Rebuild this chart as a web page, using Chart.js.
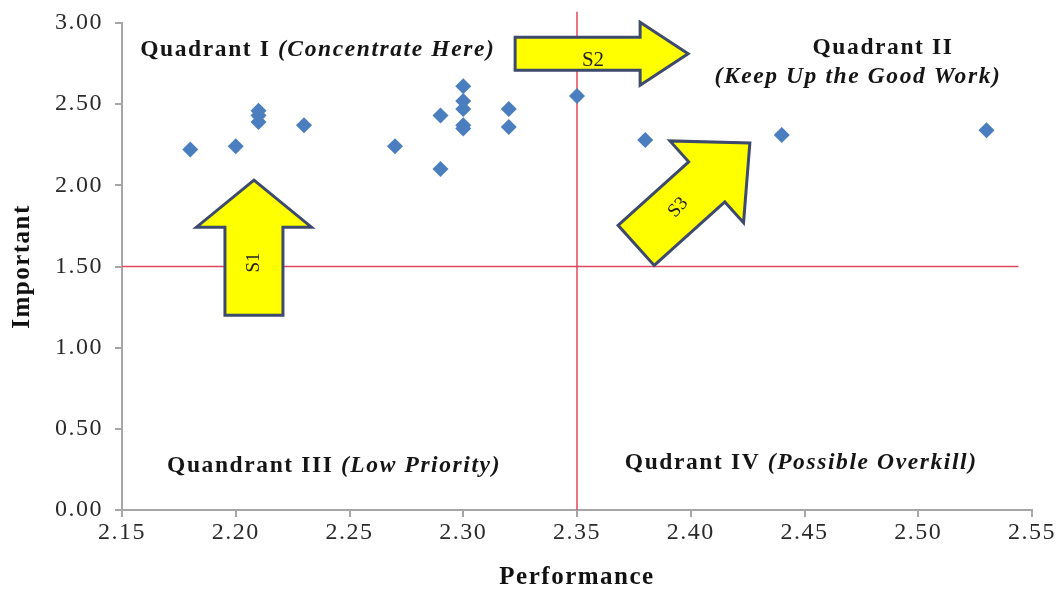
<!DOCTYPE html>
<html>
<head>
<meta charset="utf-8">
<script src="https://cdn.jsdelivr.net/npm/chart.js@4/dist/chart.umd.min.js"></script>
<style>
  html, body { margin: 0; padding: 0; background: #fff; }
  #wrap { width: 1063px; height: 589px; }
</style>
</head>
<body>
<div id="wrap"><canvas id="chart" width="1063" height="589"></canvas></div>
<script>
// values
var performance = [2.18, 2.20, 2.21, 2.21, 2.21, 2.23, 2.27, 2.29, 2.29, 2.30, 2.30, 2.30, 2.30, 2.30, 2.32, 2.32, 2.35, 2.38, 2.44, 2.53];
var importance  = [2.22, 2.24, 2.46, 2.43, 2.39, 2.37, 2.24, 2.43, 2.10, 2.61, 2.52, 2.47, 2.37, 2.35, 2.47, 2.36, 2.55, 2.28, 2.31, 2.34];

var perfCut = 2.35;
var impCut = 1.50;
var xTicks = [2.15, 2.20, 2.25, 2.30, 2.35, 2.40, 2.45, 2.50, 2.55];
var yTicks = [0.00, 0.50, 1.00, 1.50, 2.00, 2.50, 3.00];

var points = [];
for (var i = 0; i < performance.length; i++) {
    points.push({ x: performance[i], y: importance[i] });
}

var serif = '"Liberation Serif", "Times New Roman", serif';
var redLine = 'rgb(221, 72, 92)';

// text blocks and arrows, anchored in data units
var labels = [
    { x: 2.158, y: 2.834, align: 'left', parts: [['bold', 'Quadrant I '], ['italic bold', '(Concentrate Here)']] },
    { x: 2.4845, y: 2.846, align: 'center', parts: [['bold', 'Quadrant II']] },
    { x: 2.4735, y: 2.667, align: 'center', parts: [['italic bold', '(Keep Up the Good Work)']] },
    { x: 2.1698, y: 0.271, align: 'left', parts: [['bold', 'Quandrant III '], ['italic bold', '(Low Priority)']] },
    { x: 2.371, y: 0.29, align: 'left', parts: [['bold', 'Qudrant IV '], ['italic bold', '(Possible Overkill)']] }
];

var arrows = [
    { x: 2.208, y: 1.20, angle: -90, len: 135, w: 58, hw: 115, hl: 47, text: 'S1', tx: 0.39, ty: 0, trot: -90, size: 19 },
    { x: 2.3228, y: 2.81, angle: 0, len: 173, w: 33, hw: 63, hl: 48, text: 'S2', tx: 0.45, ty: 7, trot: 0, size: 21 },
    { x: 2.376, y: 1.63, angle: -42, len: 153, w: 54, hw: 110, hl: 58, text: 'S3', tx: 0.37, ty: 0, trot: -48, size: 19 }
];

var spacingPlugin = {
    id: 'spacing',
    beforeUpdate: function (chart) { chart.ctx.letterSpacing = '1.5px'; },
    beforeDraw: function (chart) { chart.ctx.letterSpacing = '1.5px'; }
};

var extrasPlugin = {
    id: 'extras',
    afterDatasetsDraw: function (chart) {
        var ctx = chart.ctx;
        var xs = chart.scales.x, ys = chart.scales.y;

        arrows.forEach(function (a) {
            var px = xs.getPixelForValue(a.x), py = ys.getPixelForValue(a.y);
            ctx.save();
            ctx.translate(px, py);
            ctx.rotate(a.angle * Math.PI / 180);
            var b = a.len - a.hl;
            ctx.beginPath();
            ctx.moveTo(0, -a.w / 2);
            ctx.lineTo(b, -a.w / 2);
            ctx.lineTo(b, -a.hw / 2);
            ctx.lineTo(a.len, 0);
            ctx.lineTo(b, a.hw / 2);
            ctx.lineTo(b, a.w / 2);
            ctx.lineTo(0, a.w / 2);
            ctx.closePath();
            ctx.fillStyle = '#ffff00';
            ctx.fill();
            ctx.lineWidth = 3;
            ctx.lineJoin = 'miter';
            ctx.strokeStyle = '#3d4a6e';
            ctx.stroke();
            ctx.translate(a.len * a.tx, a.ty);
            ctx.rotate((a.trot - a.angle) * Math.PI / 180);
            ctx.letterSpacing = '0px';
            ctx.font = a.size + 'px ' + serif;
            ctx.fillStyle = '#222';
            ctx.textAlign = 'center';
            ctx.textBaseline = 'middle';
            ctx.fillText(a.text, 0, 0);
            ctx.restore();
        });

        labels.forEach(function (l) {
            var px = xs.getPixelForValue(l.x), py = ys.getPixelForValue(l.y);
            ctx.save();
            ctx.letterSpacing = '1.6px';
            ctx.textBaseline = 'middle';
            ctx.textAlign = 'left';
            ctx.fillStyle = '#151515';
            var total = 0;
            l.parts.forEach(function (p) {
                ctx.font = p[0] + ' 23.5px ' + serif;
                total += ctx.measureText(p[1]).width;
            });
            var cx = l.align === 'center' ? px - total / 2 : px;
            l.parts.forEach(function (p) {
                ctx.font = p[0] + ' 23.5px ' + serif;
                ctx.fillText(p[1], cx, py);
                cx += ctx.measureText(p[1]).width;
            });
            ctx.restore();
        });
    }
};

var ctx = document.getElementById('chart').getContext('2d');
var chart = new Chart(ctx, {
    type: 'scatter',
    data: {
        datasets: [
            {
                label: 'Items',
                data: points,
                pointStyle: 'rectRot',
                pointRadius: 8,
                pointBackgroundColor: '#4a7ebf',
                pointBorderColor: '#4a7ebf',
                pointBorderWidth: 0,
                order: 0
            },
            {
                label: 'Performance cut',
                type: 'line',
                data: [{ x: perfCut, y: 0 }, { x: perfCut, y: 3.07 }],
                borderColor: redLine,
                borderWidth: 1.5,
                pointRadius: 0,
                clip: false,
                order: 1
            },
            {
                label: 'Importance cut',
                type: 'line',
                data: [{ x: 2.15, y: impCut }, { x: 2.544, y: impCut }],
                borderColor: redLine,
                borderWidth: 1.5,
                pointRadius: 0,
                order: 1
            }
        ]
    },
    options: {
        responsive: false,
        animation: false,
        layout: { padding: { top: 23, right: 31, bottom: 0, left: 0 } },
        plugins: {
            legend: { display: false },
            tooltip: { enabled: false }
        },
        scales: {
            x: {
                type: 'linear',
                min: 2.15,
                max: 2.55,
                afterBuildTicks: function (scale) {
                    scale.ticks = xTicks.map(function (v) { return { value: v }; });
                },
                afterFit: function (scale) { scale.height = 79; },
                ticks: {
                    color: '#2a2a2a',
                    font: { family: serif, size: 24 },
                    padding: 1,
                    maxRotation: 0,
                    autoSkip: false,
                    callback: function (v) { return Number(v).toFixed(2); }
                },
                grid: { drawOnChartArea: false, drawTicks: true, tickLength: 7, color: '#a6a6a6', lineWidth: 2 },
                border: { color: '#a6a6a6', width: 2 },
                title: {
                    display: true,
                    text: 'Performance',
                    color: '#111',
                    font: { family: serif, size: 25, weight: 'bold' },
                    padding: { top: 11, bottom: -4 }
                }
            },
            y: {
                type: 'linear',
                min: 0,
                max: 3,
                afterBuildTicks: function (scale) {
                    scale.ticks = yTicks.map(function (v) { return { value: v }; });
                },
                afterFit: function (scale) {
                    scale.width = 122;
                    scale.paddingTop = 0;
                    scale.paddingBottom = 0;
                },
                ticks: {
                    color: '#2a2a2a',
                    font: { family: serif, size: 24 },
                    padding: 12,
                    autoSkip: false,
                    callback: function (v) { return Number(v).toFixed(2); }
                },
                grid: { drawOnChartArea: false, drawTicks: true, tickLength: 7, color: '#a6a6a6', lineWidth: 2 },
                border: { color: '#a6a6a6', width: 2 },
                title: {
                    display: true,
                    text: 'Important',
                    color: '#111',
                    font: { family: serif, size: 25, weight: 'bold' },
                    padding: { top: 8, bottom: 4 }
                }
            }
        }
    },
    plugins: [spacingPlugin, extrasPlugin]
});
</script>
</body>
</html>
